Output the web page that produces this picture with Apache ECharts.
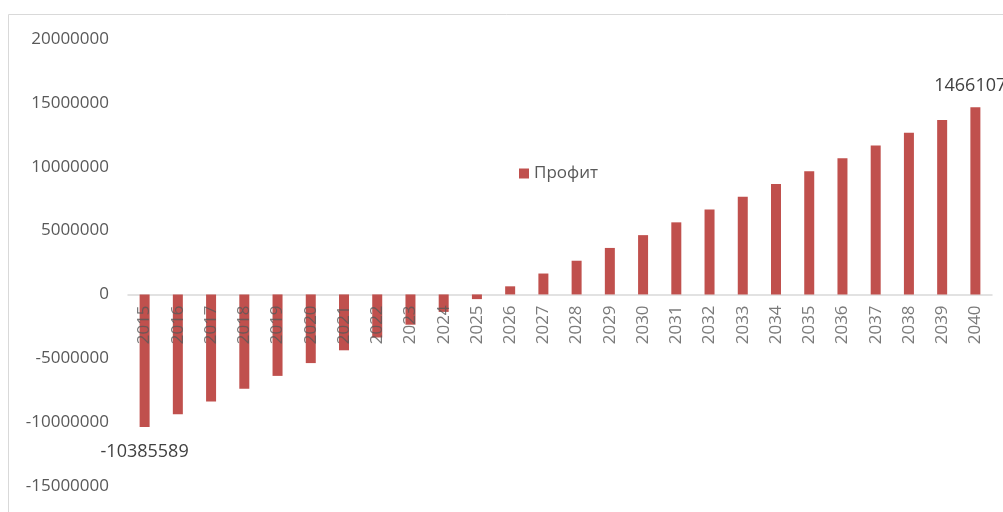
<!DOCTYPE html>
<html>
<head>
<meta charset="utf-8">
<script src="https://cdn.jsdelivr.net/npm/echarts@6/dist/echarts.min.js"></script>
<style>
html,body{margin:0;padding:0;background:#fff;}
#chart{width:1003px;height:512px;}
</style>
</head>
<body>
<div id="chart"></div>
<script>
const years = ['2015','2016','2017','2018','2019','2020','2021','2022','2023','2024','2025','2026','2027','2028','2029','2030','2031','2032','2033','2034','2035','2036','2037','2038','2039','2040'];
const profit = [-10385589,-9383722,-8381855,-7379988,-6378121,-5376254,-4374387,-3372520,-2370653,-1368786,-366919,634948,1636815,2638682,3640549,4642416,5644283,6646150,7648017,8649884,9651751,10653618,11655485,12657352,13659219,14661077];
const seriesName = 'Профит';
const yTicks = {min:-15000000, max:20000000, interval:5000000};

const font = 'Open Sans';
const chart = echarts.init(document.getElementById('chart'));
const lastIdx = profit.length - 1;
chart.setOption({
  animation:false,
  graphic:[{type:'rect',shape:{x:8.5,y:14.5,width:1200,height:700},style:{fill:'none',stroke:'#d9d9d9',lineWidth:1},silent:true,z:-1}],
  grid:{left:128,right:11,top:39,bottom:26,containLabel:false,outerBoundsMode:'none'},
  legend:{
    data:[seriesName], left:514, top:160, icon:'rect', itemWidth:10, itemHeight:10, itemGap:6,
    textStyle:{color:'#595959',fontFamily:font,fontSize:17}
  },
  xAxis:{
    type:'category', data:years,
    axisLine:{onZero:true,lineStyle:{color:'#d9d9d9',width:1.5}},
    axisTick:{show:false},
    axisLabel:{show:false}
  },
  yAxis:{
    type:'value', min:yTicks.min, max:yTicks.max, interval:yTicks.interval,
    axisLine:{show:false}, axisTick:{show:false}, splitLine:{show:false},
    axisLabel:{margin:19,color:'#595959',fontFamily:font,fontSize:17,formatter:v=>String(v)}
  },
  series:[{
    name:seriesName, type:'bar', barWidth:10,
    itemStyle:{color:'#c0504d'},
    data:profit.map((v,i)=>{
      if(i===0) return {value:v,label:{show:true,position:'bottom',distance:16}};
      if(i===lastIdx) return {value:v,label:{show:true,position:'top',distance:12}};
      return v;
    }),
    label:{show:false,color:'#404040',fontFamily:font,fontSize:18,formatter:p=>String(p.value)}
  },{
    name:'categoryLabels', type:'scatter', symbolSize:0, silent:true, z:5,
    data:years.map(()=>0),
    label:{show:true,position:[0,11],rotate:90,align:'right',verticalAlign:'middle',
      color:'#595959',fontFamily:font,fontSize:17,formatter:p=>years[p.dataIndex]}
  }]
});
</script>
</body>
</html>
